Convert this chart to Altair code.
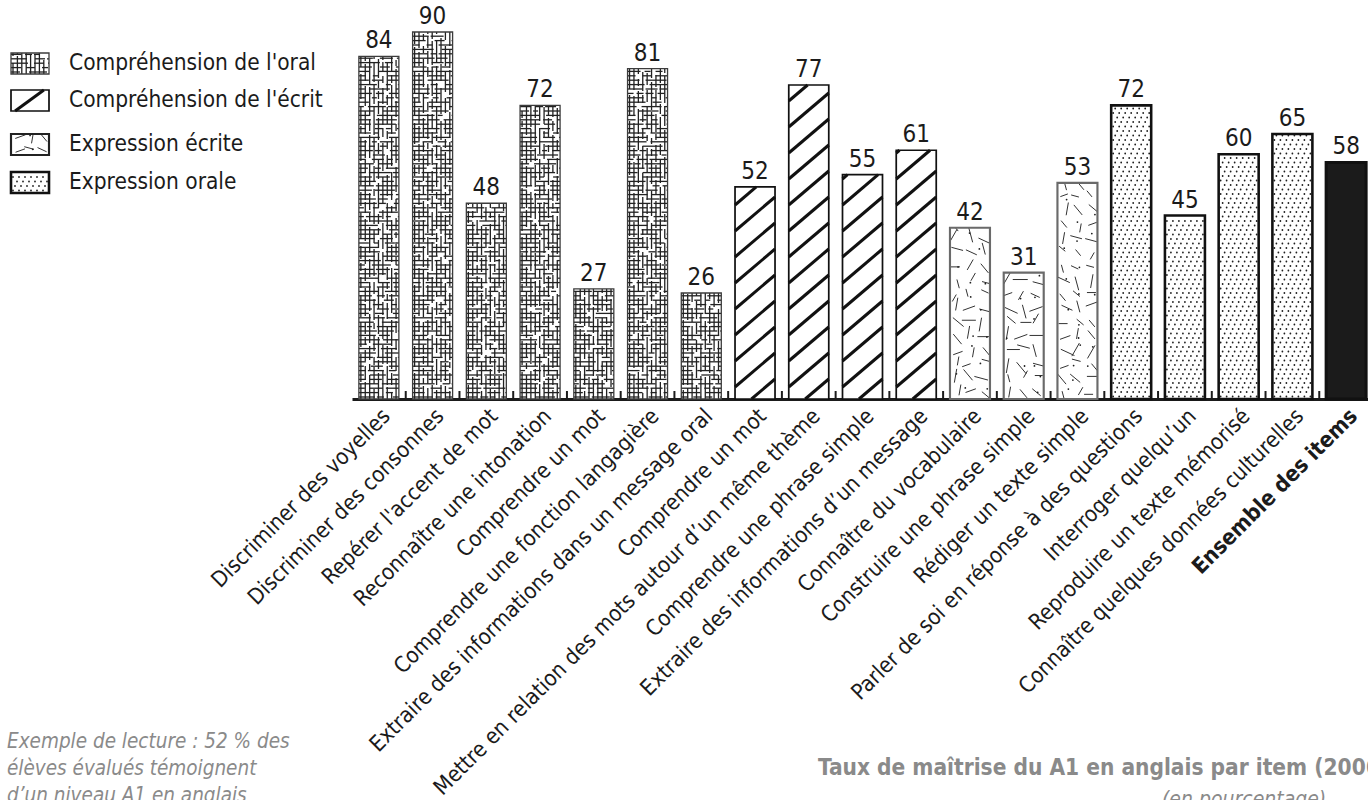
import json
import altair as alt
import pandas as pd

# ---- data -------------------------------------------------------------
items = [
    "Discriminer des voyelles",
    "Discriminer des consonnes",
    "Repérer l'accent de mot",
    "Reconnaître une intonation",
    "Comprendre un mot",
    "Comprendre une fonction langagière",
    "Extraire des informations dans un message oral",
    "Comprendre un mot",
    "Mettre en relation des mots autour d’un même thème",
    "Comprendre une phrase simple",
    "Extraire des informations d’un message",
    "Connaître du vocabulaire",
    "Construire une phrase simple",
    "Rédiger un  texte simple",
    "Parler de soi en réponse à des questions",
    "Interroger quelqu’un",
    "Reproduire un texte mémorisé",
    "Connaître quelques données culturelles",
    "Ensemble des items",
]
values = [84, 90, 48, 72, 27, 81, 26, 52, 77, 55, 61, 42, 31, 53, 72, 45, 60, 65, 58]
categories = [
    "Compréhension de l'oral",
    "Compréhension de l'écrit",
    "Expression écrite",
    "Expression orale",
]
overall = "Ensemble des items"
item_group = [categories[0]] * 7 + [categories[1]] * 4 + [categories[2]] * 3 + [categories[3]] * 4 + [overall]

note = "Exemple de lecture : 52 % des\nélèves évalués témoignent\nd’un niveau A1 en anglais"
title = "Taux de maîtrise du A1 en anglais par item (2006)"
subtitle = "(en pourcentage)"

# ---- layout -----------------------------------------------------------
FONT = "Liberation Sans Narrow, DejaVu Sans Condensed, sans-serif"
INK = "#1b1b1b"
GREY = "#8a8a8a"
LEFT, TOP = 352, 32
VIEW_W, VIEW_H = 1368 - LEFT, 367
X_RANGE = 1021                      # the last band runs just past the page edge
N = len(items)
Y_MAX = 90
PX_X = X_RANGE / N
PX_Y = VIEW_H / Y_MAX
BAR_W = 40
HALF = BAR_W / 2 / PX_X

texture_of = dict(zip(categories, ["maze", "hatch", "strokes", "dots"]))
outline_col = ["#3c3c3c", "#111111", "#6a6a6a", "#111111", "#111111"]
outline_w = [1.3, 3, 1.4, 3, 0.5]
legend_col = ["#3c3c3c", "#111111", "#222222", "#111111", "#111111"]
legend_w = [1.3, 3, 2, 2, 1]


# ---- texture helpers (pixel units, origin at the bottom-left of a box) --
def mix(*args):
    x = 2166136261
    for a in args:
        x = ((x ^ (a & 0xFFFFFFFF)) * 16777619) & 0xFFFFFFFF
        x ^= x >> 13
    return x


def clip(x0, y0, x1, y1, w, h):
    dx, dy = x1 - x0, y1 - y0
    t0, t1 = 0.0, 1.0
    for p, q in ((-dx, x0), (dx, w - x0), (-dy, y0), (dy, h - y0)):
        if p == 0:
            if q < 0:
                return None
        else:
            t = q / p
            if p < 0:
                if t > t1:
                    return None
                t0 = max(t0, t)
            else:
                if t < t0:
                    return None
                t1 = min(t1, t)
    return (x0 + t0 * dx, y0 + t0 * dy, x0 + t1 * dx, y0 + t1 * dy)


def maze(w, h, seed, step=4.4):
    segs = []
    j, u = 0, 2.0
    while u < w - 1:
        v, n = 0.0, 0
        while v < h:
            r = mix(seed, 1, j, n)
            L = 6 + r % 24
            G = 2 + (r >> 8) % 6
            segs.append((u, v, u, min(v + L, h)))
            v += L + G
            n += 1
        u += step
        j += 1
    k, v = 0, 2.0
    while v < h - 1:
        u, n = 0.0, 0
        while u < w:
            r = mix(seed, 2, k, n)
            L = 5 + r % 18
            G = 2 + (r >> 8) % 8
            segs.append((u, v, min(u + L, w), v))
            u += L + G
            n += 1
        v += step
        k += 1
    return segs, []


def hatch(w, h, slope=0.85, spacing=26.0, phase=12.0):
    segs = []
    n0 = int((-slope * w - phase) // spacing) - 1
    n1 = int((h - phase) // spacing) + 1
    for n in range(n0, n1 + 1):
        c = phase + spacing * n
        s = clip(-1.0, c - slope, w + 1.0, c + slope * (w + 1.0), w, h)
        if s:
            segs.append(s)
    return segs, []


ANGLES = [(1.0, 0.0), (0.94, 0.34), (0.5, 0.87), (0.17, 0.98), (-0.26, 0.97),
          (-0.64, 0.77), (-0.91, 0.42), (0.77, -0.64), (0.97, -0.26)]


def strokes(w, h, seed, cell_h=14.0, cols=3):
    segs, dots = [], []
    cw = w / cols
    rows = int(h // cell_h) + 1
    for r in range(rows):
        for c in range(cols):
            m = mix(seed, 3, r, c)
            cx = c * cw + 3 + (m % 100) / 100 * (cw - 6)
            cy = r * cell_h + 3 + ((m >> 7) % 100) / 100 * (cell_h - 6)
            ax, ay = ANGLES[(m >> 14) % len(ANGLES)]
            L = 8 + (m >> 18) % 8
            s = clip(cx - ax * L / 2, cy - ay * L / 2, cx + ax * L / 2, cy + ay * L / 2, w, h)
            if s:
                segs.append(s)
            if (m >> 22) % 3 == 0:
                dx = c * cw + 2 + ((m >> 5) % 90) / 90 * (cw - 4)
                dy = r * cell_h + 2 + ((m >> 11) % 90) / 90 * (cell_h - 4)
                if dy < h - 1:
                    dots.append((dx, dy))
    return segs, dots


def dots(w, h, seed=0):
    pts = []
    k, v = 0, 2.5
    while v < h - 1:
        u = 2.0 + (k % 3) * 2.0
        while u < w - 1:
            pts.append((u, v))
            u += 6.0
        v += 4.5
        k += 1
    return [], pts


def texture(kind, w, h, seed):
    if kind == "maze":
        return maze(w, h, seed)
    if kind == "hatch":
        return hatch(w, h)
    if kind == "strokes":
        return strokes(w, h, seed)
    if kind == "dots":
        return dots(w, h)
    return [], []


# ---- tables built from the arrays above -------------------------------
bars = pd.DataFrame({"idx": range(N), "item": items, "value": values, "group": item_group})
bars["left"] = bars["idx"] - HALF
bars["right"] = bars["idx"] + HALF

seg_rows, dot_rows = [], []
for i, (val, grp) in enumerate(zip(values, item_group)):
    kind = texture_of.get(grp)
    if kind is None:
        continue
    segs, pts = texture(kind, BAR_W, val * PX_Y, seed=i + 1)
    x0 = i - HALF
    for (a, b, c, d) in segs:
        seg_rows.append({"kind": kind, "x": x0 + a / PX_X, "y": b / PX_Y,
                         "x2": x0 + c / PX_X, "y2": d / PX_Y})
    for (a, b) in pts:
        dot_rows.append({"kind": kind, "x": x0 + a / PX_X, "y": b / PX_Y})
bar_segs = pd.DataFrame(seg_rows)
bar_dots = pd.DataFrame(dot_rows)

# legend swatches, drawn in pixel space of the plot group
SW_W, SW_H = 38, 21
SW_X = 11 - LEFT
SW_TOPS = [53 - TOP, 90 - TOP, 134 - TOP, 172 - TOP]
leg_box, leg_seg, leg_dot = [], [], []
for k, grp in enumerate(categories):
    top = SW_TOPS[k]
    leg_box.append({"group": grp, "x": SW_X, "x2": SW_X + SW_W, "y": top, "y2": top + SW_H,
                    "tx": SW_X + SW_W + 20, "ty": top + SW_H / 2 - 1})
    kind = texture_of[grp]
    if kind == "hatch":
        segs, pts = hatch(SW_W, SW_H, slope=0.73, spacing=200.0, phase=-3.0)
    elif kind == "strokes":
        segs, pts = strokes(SW_W, SW_H, seed=7, cell_h=11.0, cols=3)
    else:
        segs, pts = texture(kind, SW_W, SW_H, seed=11)
    for (a, b, c, d) in segs:
        leg_seg.append({"kind": kind, "x": SW_X + a, "y": top + SW_H - b,
                        "x2": SW_X + c, "y2": top + SW_H - d})
    for (a, b) in pts:
        leg_dot.append({"kind": kind, "x": SW_X + a, "y": top + SW_H - b})
leg_box = pd.DataFrame(leg_box)
leg_seg = pd.DataFrame(leg_seg)
leg_dot = pd.DataFrame(leg_dot)

ticks = pd.DataFrame({"b": [i + 0.5 for i in range(N - 1)]})


# ---- encodings --------------------------------------------------------
def xq(field, axis=None):
    return alt.X(field, type="quantitative",
                 scale=alt.Scale(domain=[-0.5, N - 0.5], range=[0, X_RANGE], nice=False, zero=False),
                 axis=axis)


def yq(field):
    return alt.Y(field, type="quantitative",
                 scale=alt.Scale(domain=[0, Y_MAX], nice=False, zero=True), axis=None)


def xp(field):
    return alt.X(field, type="quantitative", scale=None, axis=None)


def yp(field):
    return alt.Y(field, type="quantitative", scale=None, axis=None)


x_axis = alt.Axis(
    values=list(range(N)),
    labelExpr=json.dumps(items) + "[datum.value]",
    labelAngle=-45, labelAlign="right", labelBaseline="top",
    labelFont=FONT, labelFontSize=22, labelColor=INK, labelPadding=6, labelLimit=0,
    labelFontWeight={"condition": {"test": f"datum.value == {N - 1}", "value": "bold"}, "value": "normal"},
    labelOverlap=False, labelFlush=False, labelBound=False,
    ticks=False, grid=False, title=None,
    domainColor=INK, domainWidth=3,
)

group_domain = categories + [overall]

fills = alt.Chart(bars).mark_rect(strokeWidth=0).encode(
    x=xq("left", x_axis), x2="right",
    y=yq("value"), y2=alt.datum(0),
    fill=alt.Fill("group:N", scale=alt.Scale(domain=group_domain, range=["white"] * 4 + [INK]), legend=None),
)


def rules(df, kind, width, color, pixel=False):
    sub = df[df["kind"] == kind]
    xx, yy = (xp, yp) if pixel else (xq, yq)
    return alt.Chart(sub).mark_rule(strokeWidth=width, color=color, strokeCap="butt").encode(
        x=xx("x"), x2="x2", y=yy("y"), y2="y2")


def specks(df, pixel=False):
    xx, yy = (xp, yp) if pixel else (xq, yq)
    return alt.Chart(df).mark_circle(size=3.2, color="#1f1f1f", opacity=1).encode(x=xx("x"), y=yy("y"))


outlines = alt.Chart(bars).mark_rect(fillOpacity=0).encode(
    x=xq("left"), x2="right", y=yq("value"), y2=alt.datum(0),
    stroke=alt.Stroke("group:N", scale=alt.Scale(domain=group_domain, range=outline_col), legend=None),
    strokeWidth=alt.StrokeWidth("group:O", scale=alt.Scale(domain=group_domain, range=outline_w), legend=None),
)

labels = alt.Chart(bars).mark_text(
    baseline="bottom", dy=-3, font=FONT, fontSize=24, color=INK
).encode(x=xq("idx"), y=yq("value"), text="value:Q")

tick_marks = alt.Chart(ticks).mark_rule(strokeWidth=2, color=INK).encode(
    x=xq("b"), y=alt.value(VIEW_H), y2=alt.value(VIEW_H - 8))

leg_fill = alt.Chart(leg_box).mark_rect(color="white").encode(x=xp("x"), x2="x2", y=yp("y"), y2="y2")
leg_out = alt.Chart(leg_box).mark_rect(fillOpacity=0).encode(
    x=xp("x"), x2="x2", y=yp("y"), y2="y2",
    stroke=alt.Stroke("group:N", scale=alt.Scale(domain=group_domain, range=legend_col), legend=None),
    strokeWidth=alt.StrokeWidth("group:O", scale=alt.Scale(domain=group_domain, range=legend_w), legend=None),
)
leg_text = alt.Chart(leg_box).mark_text(
    align="left", baseline="middle", font=FONT, fontSize=22.5, color=INK
).encode(x=xp("tx"), y=yp("ty"), text="group:N")

note_text = alt.Chart(pd.DataFrame({"t": [note]})).mark_text(
    align="left", baseline="alphabetic", font=FONT, fontSize=20.5, fontStyle="italic",
    color=GREY, lineBreak="\n", lineHeight=27,
).encode(x=alt.value(7 - LEFT), y=alt.value(748 - TOP), text="t:N")

title_text = alt.Chart(pd.DataFrame({"t": [title]})).mark_text(
    align="left", baseline="alphabetic", font=FONT, fontSize=22.5, fontWeight="bold", color=GREY,
).encode(x=alt.value(818 - LEFT), y=alt.value(775 - TOP), text="t:N")

sub_text = alt.Chart(pd.DataFrame({"t": [subtitle]})).mark_text(
    align="left", baseline="alphabetic", font=FONT, fontSize=21, fontStyle="italic", color=GREY,
).encode(x=alt.value(1162 - LEFT), y=alt.value(806 - TOP), text="t:N")

chart = alt.layer(
    fills,
    rules(bar_segs, "maze", 1.3, "#222222"),
    rules(bar_segs, "hatch", 3, "#111111"),
    rules(bar_segs, "strokes", 1, "#333333"),
    specks(bar_dots),
    outlines,
    tick_marks,
    labels,
    leg_fill,
    rules(leg_seg, "maze", 1.3, "#222222", pixel=True),
    rules(leg_seg, "hatch", 3, "#111111", pixel=True),
    rules(leg_seg, "strokes", 1, "#333333", pixel=True),
    specks(leg_dot, pixel=True),
    leg_out,
    leg_text,
    note_text,
    title_text,
    sub_text,
).resolve_scale(
    x="independent", y="independent", fill="independent",
    stroke="independent", strokeWidth="independent",
).properties(
    width=VIEW_W, height=VIEW_H,
    autosize=alt.AutoSizeParams(type="none"),
    padding={"left": LEFT, "top": TOP, "right": 0, "bottom": 800 - TOP - VIEW_H},
    background="white",
).configure_view(stroke=None)

chart.save("out.html", embed_options={"renderer": "svg", "actions": False})
